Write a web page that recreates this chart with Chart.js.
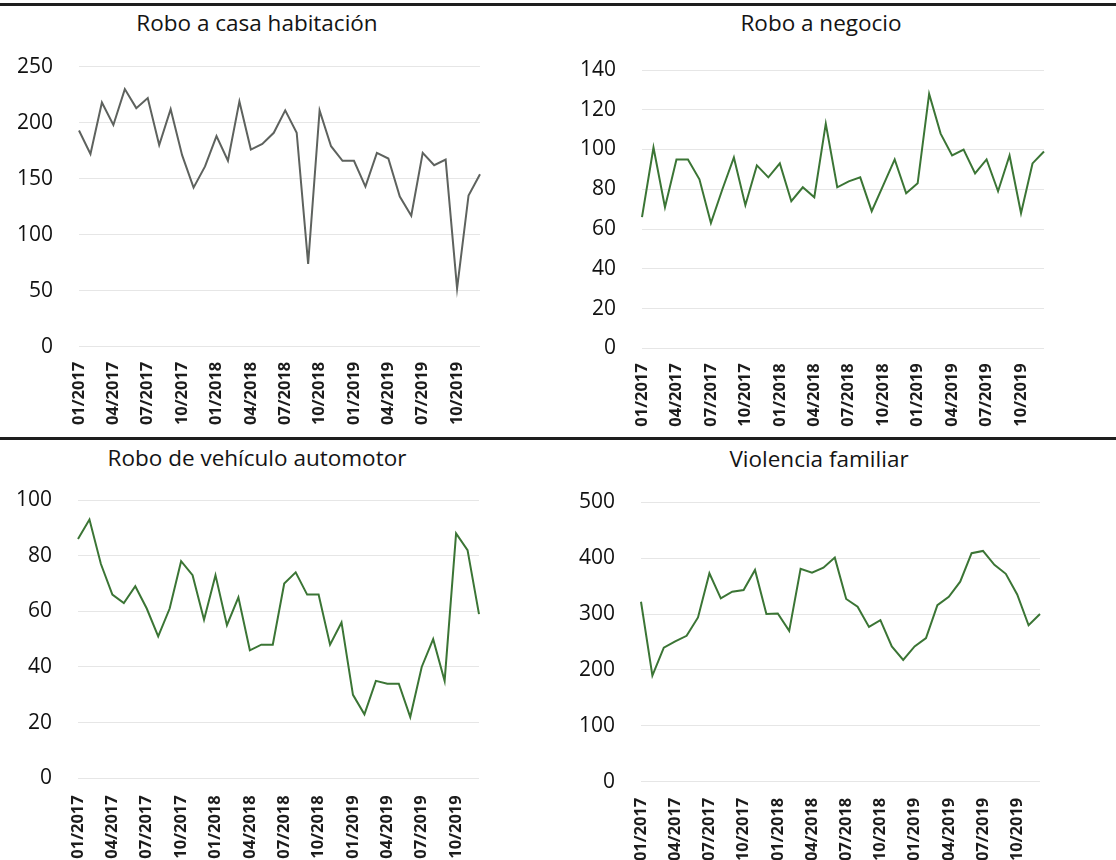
<!DOCTYPE html>
<html>
<head>
<meta charset="utf-8">
<script src="https://cdn.jsdelivr.net/npm/chart.js@4.4.1/dist/chart.umd.min.js"></script>
<style>
  body { margin: 0; background: #fff; width: 1116px; height: 860px; overflow: hidden; position: relative; font-family: "Open Sans", sans-serif; }
  canvas { position: absolute; }
  .rule { position: absolute; left: 0; width: 1116px; background: #1e1e1e; }
  .title { position: absolute; transform: translate(-50%, -50%); font-size: 22.5px; color: #141414; white-space: nowrap; }
</style>
</head>
<body>
<div class="rule" style="top:3px;height:3px"></div>
<div class="rule" style="top:437px;height:2.5px"></div>

<div class="title" style="left:257px;top:22px">Robo a casa habitación</div>
<div class="title" style="left:821px;top:22px">Robo a negocio</div>
<div class="title" style="left:257px;top:457px">Robo de vehículo automotor</div>
<div class="title" style="left:819px;top:458px">Violencia familiar</div>

<canvas id="c1" width="556" height="395" style="left:0;top:40px"></canvas>
<canvas id="c2" width="560" height="395" style="left:556px;top:40px"></canvas>
<canvas id="c3" width="556" height="385" style="left:0;top:475px"></canvas>
<canvas id="c4" width="560" height="385" style="left:556px;top:475px"></canvas>

<script>
// Meses (enero 2017 - diciembre 2019)
const meses = ['01/2017','02/2017','03/2017','04/2017','05/2017','06/2017','07/2017','08/2017','09/2017','10/2017','11/2017','12/2017',
               '01/2018','02/2018','03/2018','04/2018','05/2018','06/2018','07/2018','08/2018','09/2018','10/2018','11/2018','12/2018',
               '01/2019','02/2019','03/2019','04/2019','05/2019','06/2019','07/2019','08/2019','09/2019','10/2019','11/2019','12/2019'];

// Etiquetas visibles del eje X (cada trimestre)
const etiquetasEje = ['01/2017','04/2017','07/2017','10/2017','01/2018','04/2018','07/2018','10/2018','01/2019','04/2019','07/2019','10/2019'];

const roboCasa = [193,172,218,198,230,213,222,180,212,171,142,161,188,166,219,176,181,191,211,191,74,211,179,166,166,143,173,168,134,117,173,162,167,52,135,154];
const roboNegocio = [66,101,71,95,95,85,63,80,96,72,92,86,93,74,81,76,113,81,84,86,69,82,95,78,83,128,108,97,100,88,95,79,97,68,93,99];
const roboVehiculo = [86,93,77,66,63,69,61,51,61,78,73,57,73,55,65,46,48,48,70,74,66,66,48,56,30,23,35,34,34,22,40,50,35,88,82,59];
const violencia = [322,190,240,251,261,294,373,328,340,343,379,300,301,270,381,374,383,401,327,313,277,289,242,218,242,257,316,331,358,409,413,388,372,335,280,300];

// Escalas del eje Y
const ejeCasa = { max: 250, paso: 50 };
const ejeNegocio = { max: 140, paso: 20 };
const ejeVehiculo = { max: 100, paso: 20 };
const ejeViolencia = { max: 500, paso: 100 };

// Crea un panel; "caja" es la posición del canvas y "area" el área de trazado en la página
function crearPanel(id, valores, eje, color, caja, area, sepX) {
    const ctx = document.getElementById(id).getContext('2d');
    return new Chart(ctx, {
        type: 'line',
        data: {
            labels: meses,
            datasets: [{
                data: valores,
                borderColor: color,
                borderWidth: 2,
                pointRadius: 0,
                tension: 0,
                fill: false
            }]
        },
        options: {
            responsive: false,
            animation: false,
            events: [],
            layout: {
                padding: {
                    top: area.top - caja.y,
                    right: caja.x + caja.w - area.right,
                    left: 0,
                    bottom: 0
                }
            },
            plugins: {
                legend: { display: false },
                tooltip: { enabled: false }
            },
            scales: {
                x: {
                    offset: false,
                    grid: { display: false, drawTicks: false },
                    border: { display: false },
                    ticks: {
                        autoSkip: false,
                        minRotation: 90,
                        maxRotation: 90,
                        padding: sepX,
                        color: '#1c1c1c',
                        font: { family: 'Open Sans', size: 16.5, weight: 'bold' },
                        callback: function (v, i) {
                            return etiquetasEje.includes(meses[i]) ? meses[i] : '';
                        }
                    },
                    afterFit: function (axis) {
                        axis.height = caja.y + caja.h - area.bottom;
                        axis.paddingLeft = 0;
                        axis.paddingRight = 0;
                    }
                },
                y: {
                    min: 0,
                    max: eje.max,
                    grid: { color: '#e6e6e6', lineWidth: 1, drawTicks: false },
                    border: { display: false },
                    ticks: {
                        stepSize: eje.paso,
                        padding: 26,
                        color: '#111',
                        font: { family: 'Open Sans', size: 21 }
                    },
                    afterFit: function (axis) {
                        axis.width = area.left - caja.x;
                        // sin relleno extra arriba/abajo para fijar el área de trazado
                        axis.paddingTop = 0;
                        axis.paddingBottom = 0;
                    }
                }
            }
        }
    });
}

crearPanel('c1', roboCasa, ejeCasa, '#5e625e',
    { x: 0, y: 40, w: 556, h: 395 }, { left: 79, right: 480, top: 66.7, bottom: 346.7 }, 15);
crearPanel('c2', roboNegocio, ejeNegocio, '#3b7535',
    { x: 556, y: 40, w: 560, h: 395 }, { left: 642, right: 1044, top: 70, bottom: 348.3 }, 15);
crearPanel('c3', roboVehiculo, ejeVehiculo, '#3b7535',
    { x: 0, y: 475, w: 556, h: 385 }, { left: 78, right: 479, top: 500, bottom: 778.3 }, 17);
crearPanel('c4', violencia, ejeViolencia, '#3b7535',
    { x: 556, y: 475, w: 560, h: 385 }, { left: 641, right: 1040, top: 502.3, bottom: 781.7 }, 16);
</script>
</body>
</html>
